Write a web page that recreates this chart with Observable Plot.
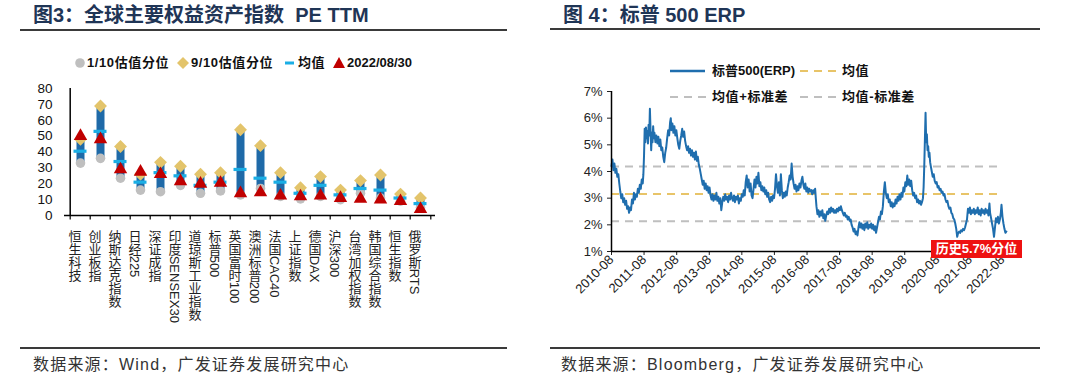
<!DOCTYPE html>
<html><head><meta charset="utf-8">
<script src="https://cdn.jsdelivr.net/npm/d3@7"></script>
<script src="https://cdn.jsdelivr.net/npm/@observablehq/plot@0.6"></script>
<style>
body{margin:0;background:#fff;width:1080px;height:389px;position:relative;overflow:hidden;font-family:"Liberation Sans",Arial,"Noto Sans CJK SC",sans-serif;}
.abs{position:absolute;white-space:nowrap;}
.title{font-size:20px;font-weight:bold;color:#1f3556;line-height:24px;}
.rule{position:absolute;height:2px;background:#3a3a3a;}
.src{font-size:16px;color:#333;line-height:20px;letter-spacing:1.2px;}
.leg{font-size:13px;font-weight:bold;color:#111;line-height:16px;letter-spacing:0.6px;}
svg.plot{position:absolute;}
</style></head><body>
<div class="abs title" style="left:33px;top:3px;">图3：全球主要权益资产指数&nbsp; PE TTM</div>
<div class="rule" style="left:20px;top:29px;width:487px;"></div>
<div class="abs title" style="left:563px;top:3px;">图 4：标普 500 ERP</div>
<div class="rule" style="left:550px;top:28px;width:490px;"></div>
<div class="rule" style="left:20px;top:347px;width:487px;"></div>
<div class="rule" style="left:550px;top:347px;width:490px;"></div>
<div class="abs src" style="left:33px;top:355px;">数据来源：Wind，广发证券发展研究中心</div>
<div class="abs src" style="left:561px;top:355px;">数据来源：Bloomberg，广发证券发展研究中心</div>

<!-- left legend -->
<svg class="abs" style="left:0;top:54px" width="540" height="20">
  <circle cx="80" cy="9" r="4.8" fill="#bfbfbf"/>
  <path d="M183,3 L189,9 L183,15 L177,9Z" fill="#e3c46b"/>
  <rect x="285" y="7.5" width="9" height="3" fill="#1aaee5"/>
  <path d="M339,3 L345,14 L333,14Z" fill="#c00000"/>
</svg>
<div class="abs leg" style="left:87px;top:55px;">1/10估值分位</div>
<div class="abs leg" style="left:191px;top:55px;">9/10估值分位</div>
<div class="abs leg" style="left:298px;top:55px;">均值</div>
<div class="abs leg" style="left:347px;top:55px;letter-spacing:0;">2022/08/30</div>

<!-- right legend -->
<svg class="abs" style="left:545px;top:60px" width="400" height="45">
  <line x1="125" x2="160" y1="11" y2="11" stroke="#1f6eae" stroke-width="2.5"/>
  <line x1="255" x2="291" y1="11" y2="11" stroke="#e8c468" stroke-width="2" stroke-dasharray="8,6"/>
  <line x1="125" x2="161" y1="37" y2="37" stroke="#bfbfbf" stroke-width="2" stroke-dasharray="8,6"/>
  <line x1="255" x2="291" y1="37" y2="37" stroke="#bfbfbf" stroke-width="2" stroke-dasharray="8,6"/>
</svg>
<div class="abs leg" style="left:712px;top:63px;letter-spacing:0;">标普500(ERP)</div>
<div class="abs leg" style="left:842px;top:63px;">均值</div>
<div class="abs leg" style="left:712px;top:89px;">均值+标准差</div>
<div class="abs leg" style="left:842px;top:89px;">均值-标准差</div>

<div id="left"></div>
<div id="right"></div>
<div class="abs" style="left:931px;top:240px;width:91px;height:18px;background:#ee1111;color:#fff;font-weight:bold;font-size:13px;line-height:18px;text-align:center;">历史5.7%分位</div>

<script>
// ---------- Left chart data (PE TTM) ----------
const categories = ["恒生科技","创业板指","纳斯达克指数","日经225","深证成指","印度SENSEX30","道琼斯工业指数","标普500","英国富时100","澳洲标普200","法国CAC40","上证指数","德国DAX","沪深300","台湾加权指数","韩国综合指数","恒生指数","俄罗斯RTS"];
const peLow  = [33, 36, 23.5, 16, 15, 19, 14, 15.5, 13, 17, 12, 10.5, 12, 10, 14, 11, 9, 5];
const peHigh = [48, 69, 43.5, 26, 33.5, 31, 26, 27, 54, 44, 27, 17.5, 24.5, 16, 22, 25.5, 13.5, 11];
const peMean = [40.5, 53, 34, 21, 27, 25, 19, 21, 29, 23.5, 21, 14, 19, 13, 17, 16, 11, 7.5];
const peNow  = [50, 48, 29, 27.5, 26, 21.5, 20, 20.5, 14, 14.5, 12.5, 12, 12.5, 11, 10.5, 10, 9, 4];
const peTicks = [0,10,20,30,40,50,60,70,80];

// ---------- Right chart data (S&P 500 ERP, %) ----------
const erpSeries = [
[2010.58,4.20],[2010.61,4.45],[2010.64,4.05],[2010.67,4.30],[2010.70,3.95],[2010.73,4.10],[2010.76,3.80],[2010.79,3.90],[2010.82,3.55],[2010.85,3.25],
[2010.88,3.00],[2010.91,3.15],[2010.94,2.85],[2010.97,3.00],[2011.00,2.75],[2011.03,2.90],[2011.06,2.60],[2011.09,2.70],[2011.12,2.45],[2011.15,2.65],
[2011.18,2.55],[2011.21,2.95],[2011.24,2.80],[2011.27,3.20],[2011.30,2.95],[2011.33,3.15],[2011.36,3.05],[2011.39,3.35],[2011.42,3.20],[2011.45,3.50],
[2011.48,3.35],[2011.51,3.70],[2011.54,3.55],[2011.56,3.90],[2011.58,4.60],[2011.60,5.60],[2011.62,5.10],[2011.64,5.65],[2011.66,5.25],[2011.68,5.50],
[2011.70,5.05],[2011.72,5.75],[2011.74,5.35],[2011.76,6.35],[2011.78,5.55],[2011.80,4.80],[2011.82,5.45],[2011.84,5.10],[2011.86,5.70],[2011.88,5.25],
[2011.90,5.45],[2011.93,5.10],[2011.96,5.35],[2011.99,5.05],[2012.02,5.30],[2012.05,4.95],[2012.08,5.20],[2012.11,4.80],[2012.14,4.90],[2012.17,4.55],
[2012.20,4.35],[2012.23,4.70],[2012.26,4.90],[2012.29,5.25],[2012.32,5.55],[2012.35,5.35],[2012.38,5.85],[2012.40,6.00],[2012.42,5.55],[2012.45,5.80],
[2012.48,5.45],[2012.51,5.70],[2012.54,5.35],[2012.57,5.55],[2012.60,5.25],[2012.63,5.00],[2012.66,4.85],[2012.69,5.15],[2012.72,5.35],[2012.75,5.60],
[2012.78,5.30],[2012.81,5.50],[2012.84,5.15],[2012.87,4.95],[2012.90,4.80],[2012.93,4.95],[2012.96,4.70],[2012.99,4.85],[2013.02,4.60],[2013.05,4.80],
[2013.08,4.55],[2013.11,4.70],[2013.14,4.45],[2013.17,4.75],[2013.20,4.40],[2013.23,4.55],[2013.26,4.25],[2013.29,4.10],[2013.32,3.90],[2013.35,3.70],
[2013.38,3.50],[2013.41,3.65],[2013.44,3.35],[2013.47,3.55],[2013.50,3.30],[2013.53,3.45],[2013.56,3.20],[2013.59,3.40],[2013.62,3.10],[2013.65,2.95],
[2013.68,3.15],[2013.71,2.90],[2013.74,3.10],[2013.77,2.95],[2013.80,3.20],[2013.83,2.90],[2013.86,3.05],[2013.89,2.80],[2013.92,3.00],[2013.95,2.55],
[2013.98,2.85],[2014.01,3.05],[2014.04,2.90],[2014.07,3.15],[2014.10,2.95],[2014.13,3.05],[2014.16,2.85],[2014.19,3.10],[2014.22,2.95],[2014.25,3.20],
[2014.28,3.00],[2014.31,2.90],[2014.34,3.10],[2014.37,2.85],[2014.40,3.05],[2014.43,2.95],[2014.46,3.10],[2014.49,2.80],[2014.52,3.00],[2014.55,2.90],
[2014.58,3.15],[2014.61,3.05],[2014.64,3.30],[2014.67,3.10],[2014.70,3.60],[2014.73,3.85],[2014.76,3.40],[2014.79,3.70],[2014.82,3.25],[2014.85,3.55],
[2014.88,3.10],[2014.91,3.00],[2014.94,3.35],[2014.97,3.70],[2015.00,3.40],[2015.03,3.80],[2015.06,3.55],[2015.09,3.95],[2015.12,3.45],[2015.15,3.60],
[2015.18,3.30],[2015.21,3.45],[2015.24,3.25],[2015.27,3.40],[2015.30,3.15],[2015.33,3.30],[2015.36,3.05],[2015.39,3.20],[2015.42,2.95],[2015.45,2.85],
[2015.48,3.05],[2015.51,2.90],[2015.54,3.10],[2015.57,3.00],[2015.60,3.35],[2015.63,3.90],[2015.66,3.45],[2015.69,3.20],[2015.72,3.60],[2015.75,3.10],
[2015.78,3.90],[2015.81,3.30],[2015.84,3.00],[2015.87,3.20],[2015.90,3.05],[2015.93,3.25],[2015.96,3.10],[2015.99,3.40],[2016.02,3.60],[2016.05,3.85],
[2016.08,3.70],[2016.11,4.30],[2016.14,3.80],[2016.17,3.55],[2016.20,3.35],[2016.23,3.50],[2016.26,3.25],[2016.29,3.45],[2016.32,3.30],[2016.35,3.55],
[2016.38,3.40],[2016.41,3.65],[2016.44,3.80],[2016.47,3.50],[2016.50,3.35],[2016.53,3.55],[2016.56,3.25],[2016.59,3.40],[2016.62,3.20],[2016.65,3.35],
[2016.68,3.25],[2016.71,3.30],[2016.74,3.15],[2016.77,3.30],[2016.80,3.20],[2016.83,3.35],[2016.85,3.00],[2016.87,2.70],[2016.90,2.40],[2016.93,2.55],
[2016.96,2.30],[2016.99,2.50],[2017.02,2.35],[2017.05,2.55],[2017.08,2.25],[2017.11,2.40],[2017.14,2.15],[2017.17,2.35],[2017.20,2.50],[2017.23,2.40],
[2017.26,2.60],[2017.29,2.45],[2017.32,2.65],[2017.35,2.50],[2017.38,2.60],[2017.41,2.45],[2017.44,2.55],[2017.47,2.45],[2017.50,2.60],[2017.53,2.50],
[2017.56,2.65],[2017.59,2.55],[2017.62,2.70],[2017.65,2.55],[2017.68,2.45],[2017.71,2.35],[2017.74,2.45],[2017.77,2.30],[2017.80,2.35],[2017.83,2.20],
[2017.86,2.30],[2017.89,2.15],[2017.92,2.20],[2017.95,2.00],[2017.98,1.90],[2018.01,1.75],[2018.04,1.85],[2018.07,1.65],[2018.10,1.75],[2018.13,1.60],
[2018.16,1.90],[2018.19,2.10],[2018.22,1.90],[2018.25,2.05],[2018.28,1.85],[2018.31,2.00],[2018.34,1.80],[2018.37,2.05],[2018.40,1.90],[2018.43,2.10],
[2018.46,1.85],[2018.49,2.00],[2018.52,1.90],[2018.55,2.05],[2018.58,1.85],[2018.61,2.00],[2018.64,1.80],[2018.67,1.95],[2018.70,1.70],[2018.73,1.90],
[2018.76,2.10],[2018.79,2.30],[2018.82,2.20],[2018.85,2.50],[2018.88,2.40],[2018.91,2.70],[2018.94,3.25],[2018.97,3.60],[2019.00,3.20],[2019.03,3.00],
[2019.06,3.15],[2019.09,2.85],[2019.12,2.95],[2019.15,2.70],[2019.18,2.85],[2019.21,2.65],[2019.24,2.80],[2019.27,2.70],[2019.30,2.95],[2019.33,2.80],
[2019.36,3.05],[2019.39,2.90],[2019.42,3.15],[2019.45,2.95],[2019.48,3.20],[2019.51,3.05],[2019.54,3.40],[2019.57,3.25],[2019.60,3.60],[2019.63,3.45],
[2019.66,3.85],[2019.69,3.50],[2019.72,3.70],[2019.75,3.45],[2019.78,3.65],[2019.81,3.30],[2019.84,3.10],[2019.87,3.20],[2019.90,3.00],[2019.93,3.10],
[2019.96,2.85],[2019.99,2.95],[2020.02,2.80],[2020.05,2.90],[2020.08,2.75],[2020.11,2.85],[2020.14,3.00],[2020.16,3.40],[2020.18,4.20],[2020.20,5.20],
[2020.22,6.20],[2020.24,5.10],[2020.26,5.40],[2020.28,4.80],[2020.30,4.95],[2020.32,4.55],[2020.34,4.70],[2020.36,4.35],[2020.38,4.20],[2020.41,4.00],
[2020.44,3.80],[2020.47,3.90],[2020.50,3.65],[2020.53,3.55],[2020.56,3.60],[2020.59,3.40],[2020.62,3.45],[2020.65,3.30],[2020.68,3.35],[2020.71,3.20],
[2020.74,3.25],[2020.77,3.10],[2020.80,3.15],[2020.83,2.95],[2020.86,2.85],[2020.89,2.90],[2020.92,2.70],[2020.95,2.60],[2020.98,2.65],[2021.01,2.45],
[2021.04,2.40],[2021.07,2.25],[2021.10,2.20],[2021.13,2.05],[2021.16,1.85],[2021.19,1.55],[2021.22,1.70],[2021.25,1.75],[2021.28,1.70],[2021.31,1.80],
[2021.34,1.75],[2021.37,1.85],[2021.40,1.80],[2021.43,1.90],[2021.46,2.05],[2021.49,2.20],[2021.52,2.60],[2021.55,2.45],[2021.58,2.65],[2021.61,2.40],
[2021.64,2.55],[2021.67,2.45],[2021.70,2.60],[2021.73,2.40],[2021.76,2.55],[2021.79,2.45],[2021.82,2.65],[2021.85,2.40],[2021.88,2.55],[2021.91,2.35],
[2021.94,2.60],[2021.97,2.45],[2022.00,2.55],[2022.03,2.40],[2022.06,2.60],[2022.09,2.45],[2022.12,2.55],[2022.15,2.35],[2022.18,2.80],[2022.20,2.45],
[2022.23,2.25],[2022.26,2.05],[2022.29,1.85],[2022.32,1.55],[2022.35,1.90],[2022.38,2.25],[2022.41,2.10],[2022.44,2.30],[2022.47,2.05],[2022.50,2.20],
[2022.53,2.45],[2022.55,2.75],[2022.58,2.30],[2022.61,2.05],[2022.64,1.85],[2022.67,1.70],[2022.70,1.75]
];
const erpMean = 3.16, erpUpper = 4.19, erpLower = 2.13;
const erpTickLabels = ["2010-08","2011-08","2012-08","2013-08","2014-08","2015-08","2016-08","2017-08","2018-08","2019-08","2020-08","2021-08","2022-08"];
const erpYTicks = [1,2,3,4,5,6,7];

// ---------- build ----------
const FONT = '"Liberation Sans", Arial, "Noto Sans CJK SC", sans-serif';
const BLUE = "#1f6aa8";
const LABEL_SIZE = 13;
const rows = categories.map((c,i)=>({cat:c, low:peLow[i], high:peHigh[i], mean:peMean[i], now:peNow[i]}));
const lW = 540, lML = 64, lMR = 105;
const bw = (lW - lML - lMR) / categories.length;

const left = Plot.plot({
  width: lW, height: 255, marginLeft: lML, marginRight: lMR, marginTop: 13, marginBottom: 115,
  style: {fontFamily: FONT, fontSize: "13.5px", color: "#111", background: "transparent"},
  x: {domain: categories, padding: 0, axis: null},
  y: {domain: [0, 80], ticks: peTicks, tickSize: 0, tickPadding: 12, label: null},
  marks: [
    Plot.ruleX(rows, {x: "cat", y1: "low", y2: "high", stroke: BLUE, strokeWidth: 8}),
    Plot.dot(rows, {x: "cat", y: "low", r: 4.8, fill: "#bfbfbf"}),
    Plot.dot(rows, {x: "cat", y: "high", symbol: "diamond2", r: 5.8, fill: "#e3c46b", stroke: "none"}),
    Plot.tickY(rows, {x: "cat", y: "mean", stroke: "#1aaee5", strokeWidth: 3.2, insetLeft: 3.5, insetRight: 3.5}),
    Plot.dot(rows, {x: "cat", y: "now", symbol: "triangle", r: 5, fill: "#c00000", stroke: "none"}),
    Plot.ruleY([0], {stroke: "#000", strokeWidth: 1.5}),
    Plot.ruleX([categories[0]], {dx: -bw/2, y1: 0, y2: 80, stroke: "#000", strokeWidth: 1.5}),
    Plot.ruleX(categories, {x: d => d, dx: -bw/2, y1: 0, y2: -2.8, stroke: "#000", strokeWidth: 1.2}),
    Plot.ruleX([categories[categories.length-1]], {dx: bw/2, y1: 0, y2: -2.8, stroke: "#000", strokeWidth: 1.2}),
    Plot.text(rows, {x: "cat", y: 0, text: "cat", dy: 10, dx: -LABEL_SIZE/2, textAnchor: "start", fontSize: LABEL_SIZE, fill: "#222"})
  ]
});
left.classList.add("plot");
left.style.left = "0px"; left.style.top = "75px";
d3.select(left).selectAll('g[aria-label="text"] text')
  .attr("dy", null)
  .style("writing-mode", "vertical-rl")
  .attr("text-anchor", "start");
document.getElementById("left").appendChild(left);

const toDate = y => { const yr = Math.floor(y); const s = Date.UTC(yr,0,1), e = Date.UTC(yr+1,0,1); return new Date(s + (y - yr) * (e - s)); };
const erp = erpSeries.map(([t,v]) => ({date: toDate(t), v}));
const tickDates = erpTickLabels.map(s => d3.utcParse("%Y-%m")(s));
const x0 = tickDates[0], x1 = tickDates[tickDates.length-1];
const lineEnd = toDate(2022.55);

const right = Plot.plot({
  width: 535, height: 250, marginLeft: 66, marginRight: 78, marginTop: 16, marginBottom: 74,
  style: {fontFamily: FONT, fontSize: "13px", color: "#222", background: "transparent"},
  x: {type: "utc", domain: [x0, x1], ticks: tickDates, tickFormat: d3.utcFormat("%Y-%m"), tickRotate: -45, tickSize: 4, tickPadding: 2, label: null},
  y: {domain: [1, 7], ticks: erpYTicks, tickFormat: d => d + "%", tickSize: 4, tickPadding: 5, label: null},
  marks: [
    Plot.ruleY([erpUpper], {x1: x0, x2: lineEnd, stroke: "#bfbfbf", strokeWidth: 2, strokeDasharray: "8,6"}),
    Plot.ruleY([erpLower], {x1: x0, x2: lineEnd, stroke: "#bfbfbf", strokeWidth: 2, strokeDasharray: "8,6"}),
    Plot.ruleY([erpMean], {x1: x0, x2: lineEnd, stroke: "#e8c468", strokeWidth: 2, strokeDasharray: "8,6"}),
    Plot.line(erp, {x: "date", y: "v", stroke: "#1f6eae", strokeWidth: 2}),
    Plot.ruleY([1], {stroke: "#000", strokeWidth: 1.5}),
    Plot.ruleX([x0], {y1: 1, y2: 7, stroke: "#000", strokeWidth: 1.5})
  ]
});
right.classList.add("plot");
right.style.left = "545px"; right.style.top = "75px";
document.getElementById("right").appendChild(right);
</script>
</body></html>
